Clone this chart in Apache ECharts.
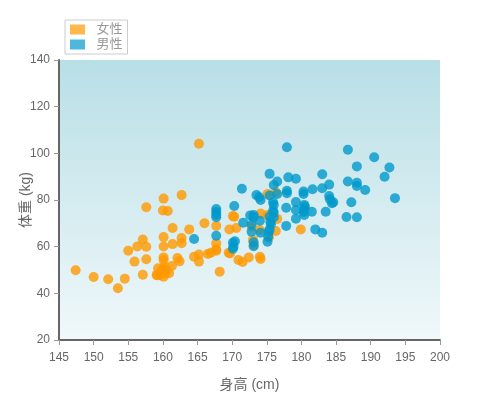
<!DOCTYPE html>
<html>
<head>
<meta charset="utf-8">
<script src="https://cdn.jsdelivr.net/npm/echarts@6/dist/echarts.min.js"></script>
<style>html,body{margin:0;padding:0;background:#fff}#main{width:500px;height:400px}</style>
</head>
<body>
<div id="main"></div>
<script>
var seriesNames = ['女性', '男性'];
var xAxisName = '身高 (cm)';
var yAxisName = '体重 (kg)';

var femaleData = [
  [147.4,49.9],[150.0,47.0],[152.1,46.0],[153.5,42.2],[154.5,46.3],[155.0,58.3],[155.9,53.6],
  [156.3,60.1],[157.1,63.1],[157.1,48.0],[157.6,76.9],[157.6,60.0],[157.6,54.6],[159.2,47.7],
  [159.3,50.7],[159.8,50.0],[160.2,51.4],[159.1,47.9],[159.6,47.9],[160.3,48.6],[160.9,48.6],
  [160.1,47.1],[160.4,50.0],[160.1,80.6],[160.0,75.5],[160.7,75.3],[160.1,64.1],[160.1,60.1],
  [160.1,55.4],[160.1,54.3],[161.3,51.7],[161.4,68.0],[161.4,61.1],[162.1,55.1],[162.4,53.7],
  [162.7,63.7],[162.7,61.5],[162.7,82.1],[163.8,67.4],[164.5,55.7],[165.2,56.6],[165.2,53.6],
  [165.2,104.1],[166.0,70.0],[166.5,56.9],[166.9,57.4],[167.7,68.9],[167.7,61.4],[167.7,58.9],
  [167.7,58.3],[168.2,49.3],[169.5,57.4],[169.7,57.1],[169.6,67.4],[170.1,73.1],[170.3,72.8],
  [170.6,68.0],[170.9,54.3],[171.5,53.4],[172.4,55.4],[174.0,55.7],[174.1,54.7],[173.0,62.9],
  [173.1,60.7],[174.1,74.2],[175.1,73.6],[176.5,71.9],[174.0,67.1],[176.3,66.7],[175.3,63.9],
  [179.9,67.4],[175.1,82.6],[176.3,83.3],[172.8,68.6]
];

var maleData = [
  [164.5,63.3],[167.7,76.1],[167.7,74.9],[167.7,73.7],[167.7,72.6],[167.7,64.7],[170.3,77.4],
  [170.1,61.7],[170.2,60.0],[170.4,62.3],[170.1,59.1],[171.6,70.3],[172.6,73.4],[173.1,73.6],
  [173.1,72.6],[172.8,69.5],[172.8,66.4],[173.1,61.9],[173.1,60.2],[171.4,84.8],[173.5,82.1],
  [173.9,81.2],[174.1,80.0],[175.4,81.9],[176.5,82.6],[175.4,91.2],[177.9,102.6],[178.1,89.7],
  [179.2,89.1],[176.0,86.4],[176.5,87.9],[177.9,84.0],[177.9,82.9],[180.3,83.6],[180.3,82.6],
  [181.6,84.6],[183.0,85.0],[184.0,86.6],[183.0,91.0],[186.7,101.5],[190.5,98.3],[188.0,94.4],
  [192.7,93.9],[192.0,90.0],[186.7,87.9],[188.0,87.4],[188.0,86.0],[189.2,84.3],[193.5,80.8],
  [184.0,81.7],[184.1,80.3],[184.4,78.6],[184.6,79.0],[187.2,79.0],[180.4,77.9],[180.5,77.1],
  [180.4,76.1],[180.3,75.0],[180.4,73.6],[181.5,75.0],[183.5,75.0],[186.5,72.7],[188.0,72.6],
  [182.0,67.4],[183.0,66.0],[175.9,79.0],[176.0,77.9],[177.8,76.7],[179.2,75.7],[179.2,79.1],
  [179.2,72.0],[177.8,68.9],[175.9,75.4],[176.0,74.6],[176.0,72.6],[175.4,72.9],[175.5,70.7],
  [175.6,69.6],[175.4,67.4],[174.0,71.1],[175.3,66.4],[175.2,64.3],[175.1,62.1],[174.1,66.0]
];

var fontFamily = 'Arial, "Liberation Sans", "Noto Sans CJK SC", sans-serif';
var chart = echarts.init(document.getElementById('main'));
chart.setOption({
  animation: false,
  textStyle: { fontFamily: fontFamily },
  legend: {
    orient: 'vertical',
    left: 65,
    top: 20,
    borderColor: '#ccc',
    borderWidth: 1,
    padding: [3, 5, 3, 5],
    itemWidth: 15,
    itemHeight: 10,
    itemGap: 2,
    icon: 'rect',
    formatter: function (name) { return '\u2002' + name; },
    textStyle: { color: '#999', fontSize: 13, fontFamily: fontFamily },
    data: [
      { name: seriesNames[0], itemStyle: { color: '#ffb84c', opacity: 1 } },
      { name: seriesNames[1], itemStyle: { color: '#4db8db', opacity: 1 } }
    ]
  },
  grid: {
    left: 59, right: 60, top: 60, bottom: 60,
    containLabel: false,
    outerBoundsMode: 'none',
    show: true,
    borderWidth: 0,
    backgroundColor: new echarts.graphic.LinearGradient(0, 0, 0, 1, [
      { offset: 0, color: '#b8dfe6' },
      { offset: 1, color: '#f0f8fa' }
    ])
  },
  xAxis: {
    type: 'value',
    min: 145, max: 200, interval: 5,
    name: xAxisName,
    nameLocation: 'middle',
    nameGap: 38,
    nameMoveOverlap: false,
    nameTextStyle: { color: '#666', fontSize: 14 },
    axisLine: { show: true, lineStyle: { color: '#666', width: 2 } },
    axisTick: { show: true, length: 5, lineStyle: { color: '#999' } },
    axisLabel: { color: '#666', fontSize: 12, margin: 12 },
    splitLine: { show: false }
  },
  yAxis: {
    type: 'value',
    min: 20, max: 140, interval: 20,
    name: yAxisName,
    nameLocation: 'middle',
    nameGap: 26,
    nameRotate: 90,
    nameMoveOverlap: false,
    nameTextStyle: { color: '#666', fontSize: 14 },
    axisLine: { show: true, lineStyle: { color: '#666', width: 2 } },
    axisTick: { show: true, length: 5, lineStyle: { color: '#999' } },
    axisLabel: { color: '#666', fontSize: 12, margin: 9 },
    splitLine: { show: false }
  },
  series: [
    {
      name: seriesNames[0], type: 'scatter', symbolSize: 10,
      itemStyle: { color: '#ff9900', opacity: 0.8 },
      data: femaleData
    },
    {
      name: seriesNames[1], type: 'scatter', symbolSize: 10,
      itemStyle: { color: '#0099cc', opacity: 0.8 },
      data: maleData
    }
  ]
});
</script>
</body>
</html>
